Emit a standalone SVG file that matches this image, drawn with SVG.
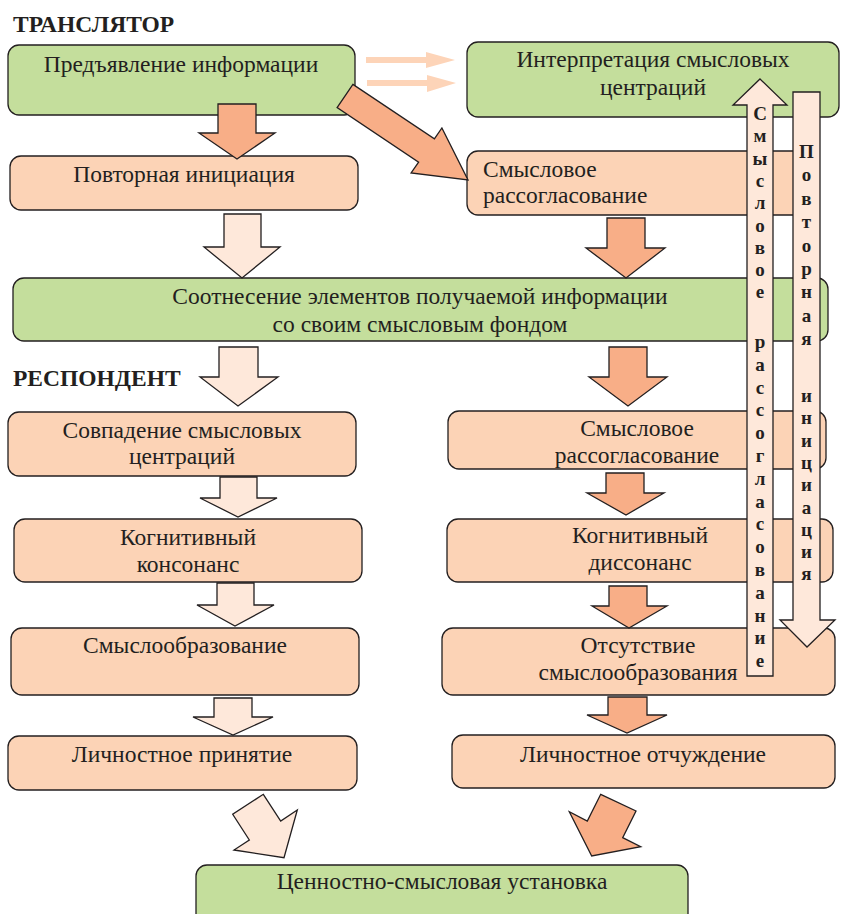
<svg xmlns="http://www.w3.org/2000/svg" width="842" height="914" viewBox="0 0 842 914">
<style>
  .g{fill:#c4de9c;stroke:#231f20;stroke-width:1.3}
  .p{fill:#fcd3b6;stroke:#231f20;stroke-width:1.3}
  .ao{fill:#f8ae87;stroke:#231f20;stroke-width:1.3;stroke-linejoin:miter}
  .al{fill:#fee8da;stroke:#231f20;stroke-width:1.3;stroke-linejoin:miter}
  .at{fill:#fdd4b8;stroke:none}
  .t{font-size:23.5px;fill:#231f20;text-anchor:middle}
  .tl{text-anchor:start}
  .h{font-size:23.5px;font-weight:bold;fill:#231f20}
  .v{font-size:19px;font-weight:bold;fill:#231f20;text-anchor:middle}
</style>
<rect width="842" height="914" fill="#ffffff"/>
<g font-family="'Liberation Serif', 'Times New Roman', Tinos, 'DejaVu Serif', serif">
<text class="h" x="13" y="32">ТРАНСЛЯТОР</text>
<text class="h" x="13" y="386">РЕСПОНДЕНТ</text>

<g id="n1"><rect class="g" x="8" y="45" width="347" height="70" rx="11"/><text class="t" x="181" y="72">Предъявление информации</text></g>
<g id="n2"><rect class="g" x="467" y="42" width="372" height="75" rx="11"/><text class="t" x="653" y="67">Интерпретация смысловых</text><text class="t" x="653" y="95">центраций</text></g>
<g id="n3"><rect class="p" x="10" y="156" width="348" height="54" rx="11"/><text class="t" x="184" y="182">Повторная инициация</text></g>
<g id="n4"><rect class="p" x="467" y="151" width="343" height="64" rx="11"/><text class="t tl" x="483" y="177">Смысловое</text><text class="t tl" x="483" y="203">рассогласование</text></g>
<g id="n5"><rect class="g" x="13" y="278" width="815" height="63" rx="11"/><text class="t" x="420" y="304">Соотнесение элементов получаемой информации</text><text class="t" x="420" y="332">со своим смысловым фондом</text></g>
<g id="n6"><rect class="p" x="8" y="412" width="348" height="64" rx="11"/><text class="t" x="182" y="438">Совпадение смысловых</text><text class="t" x="182" y="464">центраций</text></g>
<g id="n7"><rect class="p" x="448" y="411" width="378" height="58" rx="11"/><text class="t" x="637" y="436">Смысловое</text><text class="t" x="637" y="463">рассогласование</text></g>
<g id="n8"><rect class="p" x="14" y="519" width="348" height="63" rx="11"/><text class="t" x="188" y="545">Когнитивный</text><text class="t" x="188" y="572">консонанс</text></g>
<g id="n9"><rect class="p" x="447" y="519" width="386" height="63" rx="11"/><text class="t" x="640" y="543">Когнитивный</text><text class="t" x="640" y="570">диссонанс</text></g>
<g id="n10"><rect class="p" x="11" y="628" width="348" height="67" rx="11"/><text class="t" x="185" y="653">Смыслообразование</text></g>
<g id="n11"><rect class="p" x="442" y="628" width="393" height="67" rx="11"/><text class="t" x="638" y="653">Отсутствие</text><text class="t" x="638" y="680">смыслообразования</text></g>
<g id="n12"><rect class="p" x="8" y="736" width="349" height="54" rx="11"/><text class="t" x="182" y="762">Личностное принятие</text></g>
<g id="n13"><rect class="p" x="452" y="735" width="383" height="53" rx="11"/><text class="t" x="643" y="762">Личностное отчуждение</text></g>
<g id="n14"><rect class="g" x="196" y="865" width="492" height="62" rx="11"/><text class="t" x="442" y="889">Ценностно-смысловая установка</text></g>

<g id="connectors">
  <polygon class="at" points="366,57 426,57 426,52 455,60 426,68 426,63 366,63"/>
  <polygon class="at" points="367,80 427,80 427,75 456,83 427,92 427,86 367,86"/>
  <polygon class="ao" points="218,104 256,104 256,133 275,133 237,159 199,133 218,133"/>
  <polygon class="ao" points="352.9,84.4 434.4,138.9 441.9,128 468,180 411.1,173 418.6,162.1 337.1,107.6"/>
  <polygon class="al" points="224,214 261,214 261,247 280,247 242,278 204,247 224,247"/>
  <polygon class="ao" points="607,218 645,218 645,248 665,248 626,278 586,248 607,248"/>
  <polygon class="al" points="219,347 258,347 258,377 278,377 238,406 200,377 219,377"/>
  <polygon class="ao" points="609,347 647,347 647,377 667,377 628,406 589,377 609,377"/>
  <polygon class="al" points="220,477 257,477 257,498 277,498 238,517 200,498 220,498"/>
  <polygon class="ao" points="606,473 644,473 644,493 664,493 626,515 587,493 606,493"/>
  <polygon class="al" points="217,583 254,583 254,605 274,605 235,626 197,605 217,605"/>
  <polygon class="ao" points="609,586 647,586 647,606 667,606 629,628 592,606 609,606"/>
  <polygon class="al" points="214,698 252,698 252,717 273,717 233,735 193,717 214,717"/>
  <polygon class="ao" points="608,697 647,697 647,715 667,715 627,733 587,715 608,715"/>
  <polygon class="al" points="263.3,794.3 280.7,821 297.3,810 284,857.7 234,850 249.3,840 232.7,814.3"/>
  <polygon class="ao" points="600.7,794.3 636,811 622.7,837.7 640.7,846.7 591.7,856 569.3,811.7 587.3,821"/>
  <polygon class="al" points="760,79 787,105 773,105 773,676 747,676 747,105 733,105"/>
  <polygon class="al" points="793,92 820,92 820,620 835,620 807,647 780,620 793,620"/>
</g>
<text class="v" x="760 760 760 760 760 760 760 760 760 760 760 760 760 760 760 760 760 760 760 760 760 760 760 760 760" y="120 142.3 164.6 186.9 209.2 231.5 253.8 276.1 298.4 323 348 370.8 393.6 416.4 439.2 462 484.8 507.6 530.4 553.2 576 598.8 621.6 644.4 667.2">Смысловое рассогласование</text>
<text class="v" x="806.5 806.5 806.5 806.5 806.5 806.5 806.5 806.5 806.5 806.5 806.5 806.5 806.5 806.5 806.5 806.5 806.5 806.5 806.5" y="158 181.4 204.8 228.2 251.6 275 298.4 321.8 345.2 373 402 424.3 446.6 468.9 491.2 513.5 535.8 558.1 580.4">Повторная инициация</text>
</g>
</svg>
